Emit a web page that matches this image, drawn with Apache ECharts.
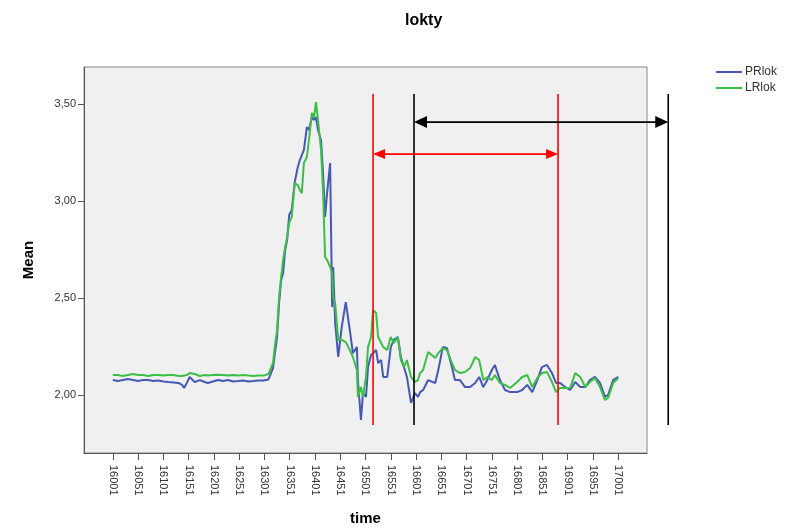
<!DOCTYPE html>
<html>
<head>
<meta charset="utf-8">
<script src="https://cdn.jsdelivr.net/npm/echarts@6/dist/echarts.min.js"></script>
<style>
html,body{margin:0;padding:0;background:#fff;}
#chart{width:798px;height:529px;}
</style>
</head>
<body>
<div id="chart"></div>
<script>
const times = [16001,16011,16021,16031,16041,16051,16061,16071,16081,16091,16101,16111,16121,16131,16138,16142,16148,16153,16163,16173,16183,16189,16199,16209,16219,16229,16239,16249,16259,16269,16279,16289,16299,16309,
16318,16322,16326,16330,16334,16338,16342,16346,16350,16355,16361,16367,16371,16375,16379,16385,16389,16395,16399,16403,16407,16413,16417,16421,16425,16431,16435,16437,16441,16447,16454,16462,16470,16476,16484,16486,16492,16496,16502,16506,16512,16516,16522,16526,16532,16536,16544,16551,16557,16565,16571,16577,16583,16591,16599,16605,16609,16615,16625,16639,16645,16654,16662,16672,16678,16688,16698,16708,16718,16726,16734,16742,16751,16757,16767,16777,16787,16801,16811,16821,16831,16841,16850,16860,16870,16878,16886,16896,16906,16916,16926,16936,16945,16955,16965,16975,16981,16991,17001];

const prlok = [2.077,2.072,2.077,2.082,2.077,2.072,2.077,2.077,2.072,2.075,2.070,2.067,2.065,2.062,2.052,2.036,2.065,2.093,2.067,2.077,2.067,2.062,2.070,2.077,2.072,2.077,2.070,2.072,2.075,2.070,2.072,2.075,2.075,2.080,
2.139,2.220,2.299,2.474,2.590,2.629,2.747,2.800,2.928,2.954,3.098,3.175,3.210,3.237,3.263,3.381,3.366,3.433,3.418,3.433,3.366,3.314,3.144,2.918,3.041,3.196,2.454,2.660,2.371,2.196,2.351,2.479,2.335,2.216,2.247,2.077,1.871,2.010,1.990,2.144,2.206,2.216,2.232,2.165,2.180,2.093,2.093,2.247,2.284,2.299,2.196,2.144,2.093,1.959,2.010,1.990,2.015,2.026,2.077,2.062,2.129,2.247,2.242,2.144,2.077,2.077,2.041,2.041,2.062,2.093,2.041,2.077,2.129,2.155,2.077,2.026,2.015,2.015,2.026,2.052,2.015,2.077,2.144,2.155,2.113,2.062,2.062,2.041,2.026,2.067,2.041,2.041,2.077,2.093,2.062,1.990,2.000,2.077,2.093];

const lrlok = [2.103,2.103,2.098,2.103,2.108,2.103,2.103,2.098,2.103,2.103,2.100,2.103,2.103,2.098,2.098,2.100,2.103,2.113,2.108,2.098,2.103,2.100,2.103,2.105,2.103,2.100,2.103,2.100,2.103,2.100,2.098,2.100,2.100,2.108,
2.165,2.260,2.335,2.505,2.608,2.696,2.763,2.814,2.887,2.918,3.093,3.082,3.057,3.041,3.196,3.227,3.314,3.454,3.433,3.510,3.418,3.263,3.057,2.711,2.696,2.660,2.629,2.505,2.474,2.284,2.284,2.273,2.232,2.196,2.129,1.990,2.041,1.990,2.093,2.247,2.299,2.438,2.423,2.299,2.268,2.247,2.232,2.299,2.268,2.299,2.180,2.144,2.180,2.093,2.067,2.077,2.113,2.129,2.222,2.191,2.216,2.242,2.232,2.165,2.129,2.113,2.119,2.139,2.196,2.180,2.077,2.093,2.077,2.103,2.062,2.052,2.036,2.067,2.093,2.103,2.041,2.088,2.113,2.119,2.067,2.015,2.036,2.036,2.036,2.113,2.093,2.041,2.067,2.088,2.041,1.974,1.985,2.062,2.088];

const seriesNames = ['PRlok', 'LRlok'];
const xTicks = [16001,16051,16101,16151,16201,16251,16301,16351,16401,16451,16501,16551,16601,16651,16701,16751,16801,16851,16901,16951,17001];
const yTicks = [2.0, 2.5, 3.0, 3.5];

// annotation positions (data units)
const redLines = [16516, 16882];
const blackLines = [16597, 17100];
const lineSpan = [1.845, 3.552];
const redArrowY = 3.242;
const blackArrowY = 3.407;

const BLUE = '#4658b4';
const GREEN = '#3cbf46';
const FONT = 'Liberation Sans, Arial, sans-serif';

const chart = echarts.init(document.getElementById('chart'), null, {renderer: 'canvas'});

const option = {
  animation: false,
  backgroundColor: '#ffffff',
  title: {
    text: 'lokty',
    left: 400, top: 8,
    textStyle: {fontFamily: FONT, fontSize: 16, fontWeight: 'bold', color: '#000'}
  },
  legend: {
    data: seriesNames,
    orient: 'vertical',
    left: 716, top: 66,
    padding: 0,
    itemGap: 4,
    itemWidth: 26, itemHeight: 2,
    icon: 'rect',
    textStyle: {fontFamily: FONT, fontSize: 12, color: '#333', padding: [0,0,0,-2]}
  },
  grid: {
    left: 84, top: 67, right: 151, bottom: 76,
    containLabel: false,
    outerBoundsMode: 'none',
    show: true,
    backgroundColor: '#f0f0f0',
    borderColor: '#888',
    borderWidth: 1
  },
  xAxis: {
    type: 'value',
    min: 15944, max: 17058,
    name: 'time',
    nameLocation: 'middle',
    nameGap: 58,
    nameTextStyle: {fontFamily: FONT, fontSize: 15, fontWeight: 'bold', color: '#000'},
    splitLine: {show: false},
    axisLine: {show: true, lineStyle: {color: '#555', width: 1}},
    axisTick: {show: true, customValues: xTicks, length: 7, lineStyle: {color: '#555'}},
    axisLabel: {
      customValues: xTicks,
      rotate: -90,
      margin: 12,
      formatter: v => String(v),
      fontFamily: FONT, fontSize: 11, color: '#333'
    }
  },
  yAxis: {
    type: 'value',
    min: 1.701, max: 3.691,
    name: 'Mean',
    nameLocation: 'middle',
    nameGap: 48,
    nameRotate: 90,
    nameTextStyle: {fontFamily: FONT, fontSize: 15, fontWeight: 'bold', color: '#000'},
    splitLine: {show: false},
    axisLine: {show: true, lineStyle: {color: '#555', width: 1}},
    axisTick: {show: true, customValues: yTicks, length: 6, lineStyle: {color: '#555'}},
    axisLabel: {
      customValues: yTicks,
      margin: 8,
      formatter: v => v.toFixed(2).replace('.', ','),
      fontFamily: FONT, fontSize: 11, color: '#333'
    }
  },
  series: [
    {
      name: seriesNames[0], type: 'line', showSymbol: false, symbol: 'none',
      data: times.map((t, i) => [t, prlok[i]]),
      lineStyle: {color: BLUE, width: 2}, itemStyle: {color: BLUE}, z: 2
    },
    {
      name: seriesNames[1], type: 'line', showSymbol: false, symbol: 'none',
      data: times.map((t, i) => [t, lrlok[i]]),
      lineStyle: {color: GREEN, width: 2}, itemStyle: {color: GREEN}, z: 3
    }
  ]
};
chart.setOption(option);

function px(x, y) { return chart.convertToPixel({xAxisIndex: 0, yAxisIndex: 0}, [x, y]); }

function vLine(x, color) {
  const a = px(x, lineSpan[0]), b = px(x, lineSpan[1]);
  return {type: 'line', z: 100, shape: {x1: a[0], y1: a[1], x2: b[0], y2: b[1]}, style: {stroke: color, lineWidth: 1.6}};
}
function arrow(x1, x2, y, color, head, half) {
  const a = px(x1, y), b = px(x2, y);
  const yy = a[1];
  return [
    {type: 'line', z: 100, shape: {x1: a[0] + head - 1, y1: yy, x2: b[0] - head + 1, y2: yy}, style: {stroke: color, lineWidth: 1.6}},
    {type: 'polygon', z: 100, shape: {points: [[a[0], yy], [a[0] + head, yy - half], [a[0] + head, yy + half]]}, style: {fill: color}},
    {type: 'polygon', z: 100, shape: {points: [[b[0], yy], [b[0] - head, yy - half], [b[0] - head, yy + half]]}, style: {fill: color}}
  ];
}

const g = [];
redLines.forEach(x => g.push(vLine(x, '#ff0000')));
blackLines.forEach(x => g.push(vLine(x, '#000000')));
g.push(...arrow(redLines[0], redLines[1], redArrowY, '#ff0000', 12, 5));
g.push(...arrow(blackLines[0], blackLines[1], blackArrowY, '#000000', 13, 6));
chart.setOption({graphic: g});
</script>
</body>
</html>
